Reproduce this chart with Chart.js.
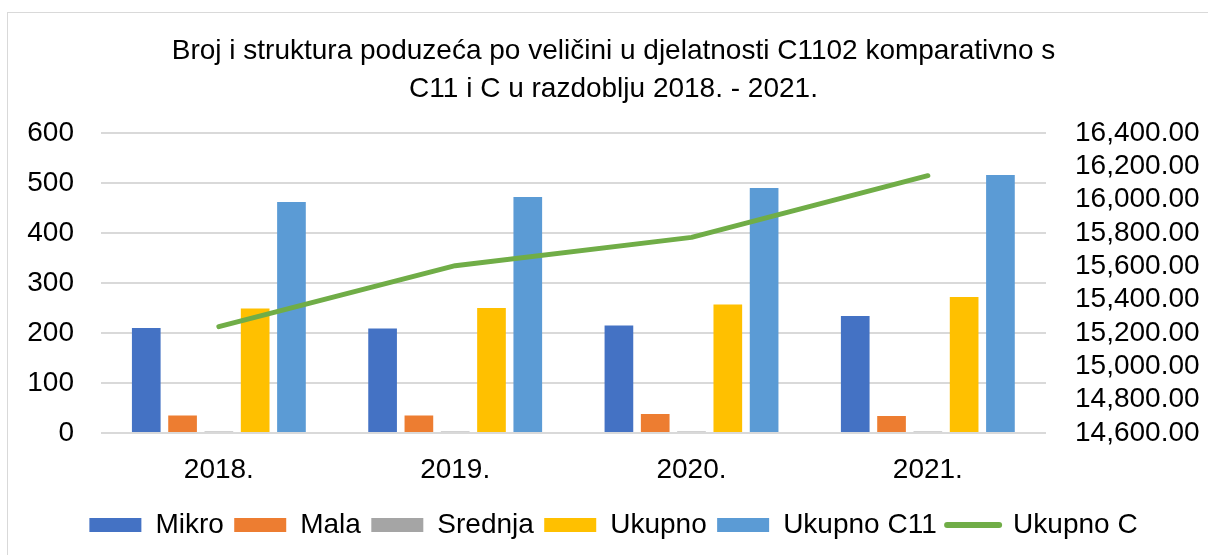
<!DOCTYPE html>
<html>
<head>
<meta charset="utf-8">
<script src="https://cdn.jsdelivr.net/npm/chart.js@4"></script>
<style>
  html, body { margin: 0; padding: 0; background: #fff; }
  #wrap { position: relative; width: 1208px; height: 555px; overflow: hidden; }
  #frame { position: absolute; left: 7px; top: 12px; width: 1300px; height: 700px; border: 1px solid #d9d9d9; }
  canvas { position: absolute; left: 0; top: 0; }
</style>
</head>
<body>
<div id="wrap">
  <div id="frame"></div>
  <canvas id="chart" width="1208" height="555"></canvas>
</div>
<script>
/* ============================
   DATA
   ============================ */
const years = ["2018.", "2019.", "2020.", "2021."];

const mikro = [210, 209, 215, 234];
const mala = [35, 35, 38, 34];
const srednja = [3, 3, 3, 3];
const ukupno = [249, 250, 257, 272];
const ukupnoC11 = [462, 472, 490, 516];
const ukupnoC = [15238, 15604, 15774, 16144];

const titleLines = [
  "Broj i struktura poduzeća po veličini u djelatnosti C1102 komparativno s",
  "C11 i C u razdoblju 2018. - 2021.",
];

const FONT = "'Liberation Sans', Arial, sans-serif";

/* ============================
   CHART
   ============================ */
const barOpts = {
  categoryPercentage: 0.768,
  barPercentage: 0.79,
  borderWidth: 0,
};

const ctx = document.getElementById("chart").getContext("2d");

new Chart(ctx, {
  type: "bar",
  data: {
    labels: years,
    datasets: [
      { label: "Mikro", data: mikro, backgroundColor: "#4472C4", yAxisID: "y", ...barOpts },
      { label: "Mala", data: mala, backgroundColor: "#ED7D31", yAxisID: "y", ...barOpts },
      { label: "Srednja", data: srednja, backgroundColor: "#A5A5A5", yAxisID: "y", ...barOpts },
      { label: "Ukupno", data: ukupno, backgroundColor: "#FFC000", yAxisID: "y", ...barOpts },
      { label: "Ukupno C11", data: ukupnoC11, backgroundColor: "#5B9BD5", yAxisID: "y", ...barOpts },
      {
        type: "line",
        label: "Ukupno C",
        data: ukupnoC,
        yAxisID: "y1",
        borderColor: "#70AD47",
        backgroundColor: "#70AD47",
        borderWidth: 5,
        borderCapStyle: "round",
        borderJoinStyle: "round",
        pointRadius: 0,
        tension: 0,
        order: -1, // draw the line over the bars
      },
    ],
  },
  options: {
    responsive: false,
    animation: false,
    layout: { padding: { left: 19, right: 0, top: 0, bottom: 6 } },
    plugins: {
      tooltip: { enabled: false },
      title: {
        display: true,
        text: titleLines,
        color: "#000",
        font: { family: FONT, size: 28, weight: "normal", lineHeight: 1.34 },
        padding: { top: 33, bottom: 25 },
      },
      legend: {
        position: "bottom",
        labels: {
          color: "#000",
          font: { family: FONT, size: 28 },
          usePointStyle: true,
          pointStyleWidth: 52,
          boxHeight: 14,
          padding: 10.4,
          sort: (a, b) => a.datasetIndex - b.datasetIndex,
          generateLabels(chart) {
            const items = Chart.defaults.plugins.legend.labels.generateLabels(chart);
            items.forEach((item) => {
              const ds = chart.data.datasets[item.datasetIndex];
              if (ds.type === "line") {
                item.pointStyle = "line";
                item.lineWidth = 6;
                item.strokeStyle = ds.borderColor;
                item.lineCap = "round";
              } else {
                item.pointStyle = "rect";
                item.lineWidth = 0;
              }
            });
            return items;
          },
        },
      },
    },
    scales: {
      x: {
        grid: { display: false, drawTicks: false },
        border: { display: false },
        ticks: { color: "#000", font: { family: FONT, size: 28 }, padding: 20 },
        afterFit(scale) { scale.height = 67.6; },
      },
      y: {
        position: "left",
        min: 0,
        max: 600,
        ticks: { stepSize: 100, color: "#000", font: { family: FONT, size: 28 }, padding: 26.7 },
        grid: { color: "#d9d9d9", lineWidth: 2, drawTicks: false },
        border: { display: false },
        afterFit(scale) { scale.width = 81.7; },
      },
      y1: {
        position: "right",
        min: 14600,
        max: 16400,
        ticks: {
          stepSize: 200,
          autoSkip: false,
          color: "#000",
          font: { family: FONT, size: 28 },
          padding: 29,
          callback: (v) => v.toLocaleString("en-US", { minimumFractionDigits: 2, maximumFractionDigits: 2 }),
        },
        grid: { display: false, drawTicks: false },
        border: { display: false },
        afterFit(scale) { scale.width = 162; },
      },
    },
  },
});
</script>
</body>
</html>
